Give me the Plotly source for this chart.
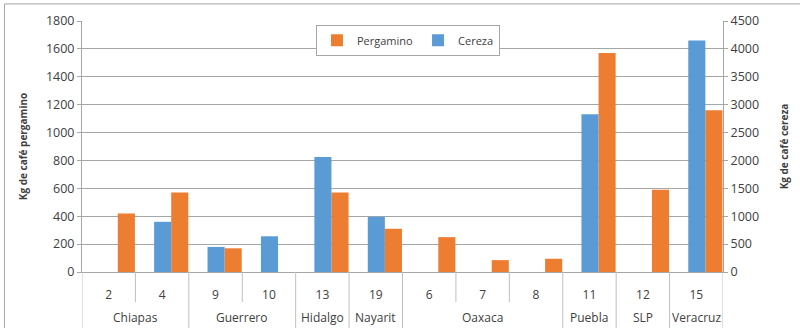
import plotly.graph_objects as go

states = ["Chiapas", "Chiapas", "Guerrero", "Guerrero", "Hidalgo", "Nayarit",
          "Oaxaca", "Oaxaca", "Oaxaca", "Puebla", "SLP", "Veracruz"]
sites = ["2", "4", "9", "10", "13", "19", "6", "7", "8", "11", "12", "15"]
pergamino = [420, 570, 170, None, 570, 310, 250, 85, 95, 1570, 590, 1160]
cereza = [None, 900, 450, 640, 2060, 990, None, None, None, 2830, None, 4150]

left_ticks = list(range(0, 1801, 200))
right_ticks = list(range(0, 4501, 500))

FONT = "Open Sans"
TXT = "#404040"
DIV = "#BFBFBF"

# plot area geometry (pixels)
PLOT_H = 328 - 21 - 56
SHORT = -30 / PLOT_H
LONG = -60 / PLOT_H
STATE_Y = -45 / PLOT_H

fig = go.Figure()
fig.add_trace(go.Bar(
    x=sites, y=pergamino, name="Pergamino",
    marker=dict(color="#ED7D31", line=dict(width=0)),
    width=0.32, offset=0.17, yaxis="y",
))
fig.add_trace(go.Bar(
    x=sites, y=cereza, name="Cereza",
    marker=dict(color="#5B9BD5", line=dict(width=0)),
    width=0.32, offset=-0.15, yaxis="y2",
))

# group runs of states
groups = []
start = 0
for i in range(1, len(states) + 1):
    if i == len(states) or states[i] != states[start]:
        groups.append((states[start], start, i - 1))
        start = i

shapes = []
annotations = []
for name, a, b in groups:
    annotations.append(dict(
        x=(a + b) / 2, y=STATE_Y, xref="x", yref="paper", text=name,
        showarrow=False, yanchor="middle", xanchor="center",
        font=dict(family=FONT, size=12, color=TXT),
    ))
    shapes.append(dict(type="line", xref="x", yref="paper",
                       x0=a - 0.5, x1=a - 0.5, y0=0, y1=LONG,
                       line=dict(color=DIV, width=1)))
    for k in range(a + 1, b + 1):
        shapes.append(dict(type="line", xref="x", yref="paper",
                           x0=k - 0.5, x1=k - 0.5, y0=0, y1=SHORT,
                           line=dict(color=DIV, width=1)))
shapes.append(dict(type="line", xref="x", yref="paper",
                   x0=len(states) - 0.5, x1=len(states) - 0.5, y0=0, y1=LONG,
                   line=dict(color=DIV, width=1)))
# outer frame
shapes.append(dict(
    type="rect", xref="paper", yref="paper",
    x0=-0.121, x1=1.2, y0=-0.3, y1=1.068,
    line=dict(color="#A6A6A6", width=1), fillcolor="rgba(0,0,0,0)",
    layer="below",
))

fig.update_layout(
    width=800, height=328,
    margin=dict(l=82, r=75, t=21, b=56),
    paper_bgcolor="white", plot_bgcolor="white",
    font=dict(family=FONT, size=11, color=TXT),
    showlegend=True,
    legend=dict(
        orientation="h", x=0.365, y=0.985, xanchor="left", yanchor="top",
        bordercolor="#A6A6A6", borderwidth=1, bgcolor="white",
        font=dict(family=FONT, size=11, color=TXT),
        traceorder="normal", itemwidth=30,
    ),
    xaxis=dict(
        type="category", categoryorder="array", categoryarray=sites,
        range=[-0.5, len(sites) - 0.5],
        showline=True, linecolor="#A6A6A6", linewidth=1,
        ticks="", showgrid=False, zeroline=False,
        tickfont=dict(family=FONT, size=12, color=TXT),
        ticklabelstandoff=12,
    ),
    yaxis=dict(
        range=[0, 1800], tickvals=left_ticks, ticktext=[str(v) for v in left_ticks],
        showgrid=True, gridcolor="#A6A6A6", gridwidth=1,
        showline=True, linecolor="#A6A6A6", ticks="outside", ticklen=4,
        tickcolor="#A6A6A6", zeroline=False,
        tickfont=dict(family=FONT, size=12.5, color=TXT),
        title=dict(text="<b>Kg de café pergamino</b>", standoff=16,
                   font=dict(family=FONT, size=10, color=TXT)),
    ),
    yaxis2=dict(
        range=[0, 4500], tickvals=right_ticks, ticktext=[str(v) for v in right_ticks],
        overlaying="y", side="right", showgrid=False,
        showline=True, linecolor="#A6A6A6", ticks="outside", ticklen=4,
        tickcolor="#A6A6A6", zeroline=False,
        tickfont=dict(family=FONT, size=12.5, color=TXT),
        title=dict(text="<b>Kg de café cereza</b>", standoff=22,
                   font=dict(family=FONT, size=10, color=TXT)),
    ),
    shapes=shapes,
    annotations=annotations,
)

fig.write_html("out.html")
